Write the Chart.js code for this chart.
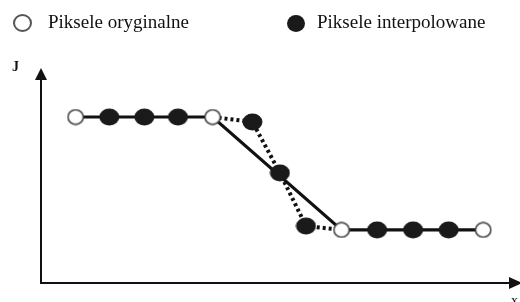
<!DOCTYPE html>
<html>
<head>
<meta charset="utf-8">
<script src="https://cdn.jsdelivr.net/npm/chart.js@4.4.0/dist/chart.umd.min.js"></script>
<style>
  body{margin:0;background:#fff;}
  #wrap{position:relative;width:520px;height:302px;overflow:hidden;}
  .lbl{position:absolute;font-family:"Liberation Serif","DejaVu Serif",serif;color:#111;white-space:nowrap;line-height:1;}
  .mk{position:absolute;box-sizing:border-box;border-radius:50%;}
</style>
</head>
<body>
<div id="wrap">
  <canvas id="mychart" width="520" height="302"></canvas>
  <span class="mk" style="left:13px;top:14px;width:19px;height:18px;border:2px solid #555;background:#fff"></span>
  <span class="lbl" style="left:48px;top:12px;font-size:19px">Piksele oryginalne</span>
  <span class="mk" style="left:287px;top:15px;width:18px;height:17px;background:#1a1a1a"></span>
  <span class="lbl" style="left:317px;top:12px;font-size:19px">Piksele interpolowane</span>
  <span class="lbl" style="left:12px;top:60px;font-size:14px;font-weight:bold">J</span>
  <span class="lbl" style="left:511px;top:294px;font-size:14px">x</span>
</div>
<script>
// positions (x and J in % of the axes)
var origX=[7.3,36.2,63.4,93.3]
var origJ=[77.2,77.2,24.7,24.7]
var interpX=[14.4,21.8,28.9,44.6,50.4,55.9,70.9,78.5,86.0]
var interpJ=[77.2,77.2,77.2,74.9,51.2,26.5,24.7,24.7,24.7]

function pts(xs,ys){
  var out=[]
  for(var i=0;i<xs.length;i++) out.push({x:xs[i],y:ys[i]})
  return out
}
var orig=pts(origX,origJ)
var interp=pts(interpX,interpJ)
// dotted path: second original -> the three interpolated in the slope -> third original
var dotted=[orig[1],interp[3],interp[4],interp[5],orig[2]]

// slightly flattened markers like in the picture
function ellipse(w,h,fill,stroke,lw){
  var cv=document.createElement('canvas')
  cv.width=w; cv.height=h
  var g=cv.getContext('2d')
  g.beginPath()
  g.ellipse(w/2,h/2,w/2-lw/2-0.5,h/2-lw/2-0.5,0,0,Math.PI*2)
  g.fillStyle=fill; g.fill()
  if(lw>0){g.lineWidth=lw; g.strokeStyle=stroke; g.stroke()}
  return cv
}
var origMark=ellipse(18,17,'#fff','#444',1.6)
var interpMark=ellipse(21,18,'#1a1a1a','#1a1a1a',0)

var axesArrows={
  id:'axesArrows',
  afterDraw:function(chart){
    var a=chart.chartArea, c=chart.ctx
    c.save()
    c.strokeStyle='#111'; c.fillStyle='#111'; c.lineWidth=2
    c.beginPath()
    c.moveTo(a.left,a.top+10); c.lineTo(a.left,a.bottom); c.lineTo(a.right-6,a.bottom)
    c.stroke()
    c.beginPath()
    c.moveTo(a.left,a.top); c.lineTo(a.left-6,a.top+12); c.lineTo(a.left+6,a.top+12); c.closePath()
    c.fill()
    c.beginPath()
    c.moveTo(a.right+7,a.bottom); c.lineTo(a.right-6,a.bottom-6); c.lineTo(a.right-6,a.bottom+6); c.closePath()
    c.fill()
    c.restore()
  }
}

var ctx=document.getElementById('mychart').getContext('2d')
var chart=new Chart(ctx,{
  type:'scatter',
  data:{
    datasets:[
      {
        label:'Piksele oryginalne',
        data:orig,
        pointStyle:origMark,
        showLine:false,
        order:0
      },
      {
        label:'Piksele interpolowane',
        data:interp,
        pointStyle:interpMark,
        showLine:false,
        order:0
      },
      {
        label:'solid',
        data:orig,
        showLine:true,
        pointRadius:0,
        borderColor:'#111',
        borderWidth:3.2,
        tension:0,
        order:2
      },
      {
        label:'dotted',
        data:dotted,
        showLine:true,
        pointRadius:0,
        borderColor:'#111',
        borderWidth:4,
        borderDash:[3,3],
        tension:0,
        order:1
      }
    ]
  },
  options:{
    responsive:false,
    animation:false,
    layout:{padding:{left:41,top:68,right:1,bottom:19}},
    plugins:{legend:{display:false},tooltip:{enabled:false}},
    scales:{
      x:{type:'linear',min:0,max:100,display:false},
      y:{type:'linear',min:0,max:100,display:false}
    }
  },
  plugins:[axesArrows]
})
</script>
</body>
</html>
